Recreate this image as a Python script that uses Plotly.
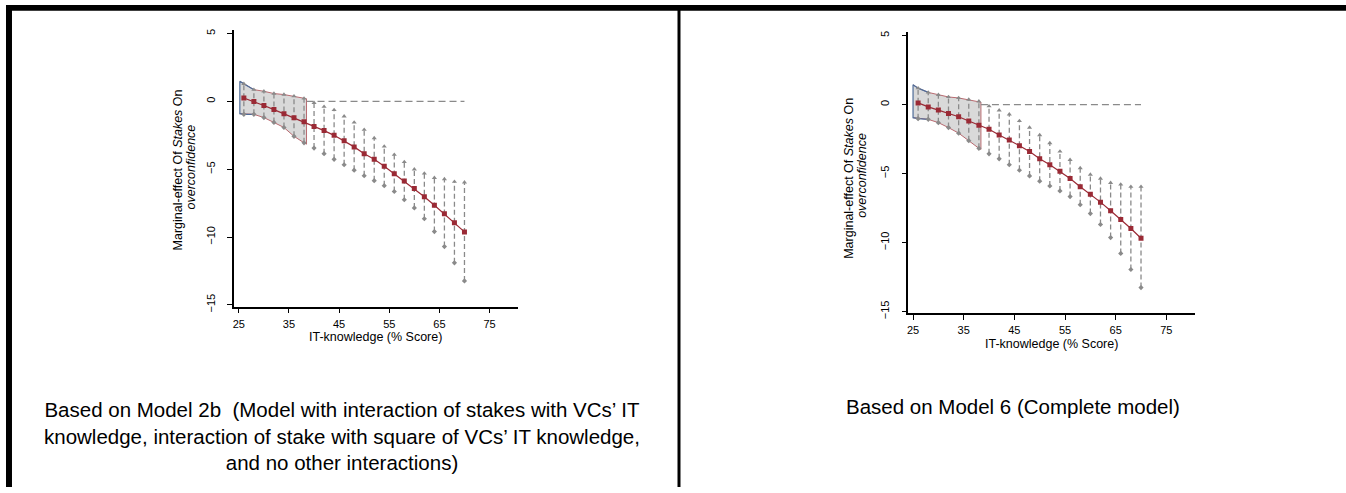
import plotly.graph_objects as go

# ---------------- data ----------------
x_points = [26, 28, 30, 32, 34, 36, 38, 40, 42, 44, 46, 48,
            50, 52, 54, 56, 58, 60, 62, 64, 66, 68, 70]

left_est = [0.25, 0.0, -0.3, -0.6, -0.9, -1.2, -1.5, -1.85, -2.15, -2.5, -2.9, -3.35,
            -3.85, -4.27, -4.78, -5.33, -5.87, -6.42, -7.03, -7.66, -8.29, -8.95, -9.62]
left_hi = [1.3, 0.87, 0.75, 0.58, 0.51, 0.39, 0.22, -0.1, -0.39, -0.63, -1.1, -1.55,
           -2.08, -2.7, -3.32, -3.93, -4.46, -5.0, -5.31, -5.63, -5.72, -5.92, -5.96]
left_lo = [-0.95, -0.95, -1.19, -1.55, -1.92, -2.57, -3.05, -3.44, -3.85, -4.27, -4.67, -5.07,
           -5.48, -5.84, -6.21, -6.64, -7.25, -7.85, -8.65, -9.6, -10.7, -11.9, -13.24]

right_est = [0.12, -0.17, -0.4, -0.64, -0.88, -1.19, -1.5, -1.79, -2.2, -2.57, -2.98, -3.4,
             -3.93, -4.36, -4.83, -5.36, -5.95, -6.5, -7.07, -7.69, -8.33, -8.98, -9.69]
right_hi = [1.19, 0.88, 0.71, 0.55, 0.48, 0.36, 0.24, -0.12, -0.42, -0.71, -1.19, -1.67,
            -2.21, -2.79, -3.4, -4.0, -4.6, -5.07, -5.36, -5.67, -5.79, -5.95, -5.95]
right_lo = [-1.02, -1.07, -1.31, -1.67, -2.07, -2.62, -3.17, -3.57, -3.93, -4.36, -4.76, -5.17,
            -5.55, -5.9, -6.26, -6.67, -7.26, -7.9, -8.69, -9.64, -10.79, -11.95, -13.26]

# shaded (insignificance) region
left_shade_x = [25.2, 26, 28, 30, 32, 34, 36, 38, 38.5]
left_shade_hi = [1.48, 1.3, 0.87, 0.75, 0.58, 0.51, 0.39, 0.22, 0.2]
left_shade_lo = [-0.9, -0.95, -0.95, -1.19, -1.55, -1.92, -2.57, -3.05, -3.15]

right_shade_x = [25.0, 26, 28, 30, 32, 34, 36, 38, 38.4]
right_shade_hi = [1.43, 1.19, 0.88, 0.71, 0.55, 0.48, 0.36, 0.24, 0.17]
right_shade_lo = [-0.95, -1.02, -1.07, -1.31, -1.67, -2.07, -2.62, -3.17, -3.25]

left_zero_x = [38.5, 70]
right_zero_x = [38.4, 70]
zero_y = [0, 0]

x_ticks = [25, 35, 45, 55, 65, 75]
y_ticks = [-15, -10, -5, 0, 5]

y_title_1 = "Marginal-effect Of <i>Stakes</i> On"
y_title_2 = "<i>overconfidence</i>"
x_title = "IT-knowledge (% Score)"
left_caption = ("Based on Model 2b  (Model with interaction of stakes with VCs\u2019 IT<br>"
                "knowledge, interaction of stake with square of VCs\u2019 IT knowledge,<br>"
                "and no other interactions)")
right_caption = "Based on Model 6 (Complete model)"

# ---------------- styling ----------------
W, H = 1346, 493
RED = "#9a2a35"
RED_LIGHT = "#b86a70"
GRAY = "#8a8a8a"
BLUE = "#4f6d99"
FILL = "#d9d9d9"


def px(xp):
    return xp / W


def py(yp):
    return 1 - yp / H


fig = go.Figure()


def add_panel(xa, ya, est, hi, lo, sx, shi, slo, zx):
    # shaded band
    fig.add_trace(go.Scatter(
        x=sx + sx[::-1], y=shi + slo[::-1], fill="toself", fillcolor=FILL,
        line=dict(color=RED_LIGHT, width=1), mode="lines",
        xaxis=xa, yaxis=ya, hoverinfo="skip", showlegend=False))
    # blue left edge of band
    fig.add_trace(go.Scatter(
        x=[sx[2], sx[1], sx[0], sx[0], sx[1], sx[2]],
        y=[shi[2], shi[1], shi[0], slo[0], slo[1], slo[2]],
        mode="lines", line=dict(color=BLUE, width=1.2),
        xaxis=xa, yaxis=ya, hoverinfo="skip", showlegend=False))
    # zero reference line
    fig.add_trace(go.Scatter(
        x=zx, y=zero_y, mode="lines",
        line=dict(color=GRAY, width=1.3, dash="7px,4px"),
        xaxis=xa, yaxis=ya, hoverinfo="skip", showlegend=False))
    # dashed confidence intervals
    cx, cy = [], []
    for xv, h, l in zip(x_points, hi, lo):
        cx += [xv, xv, None]
        cy += [l, h, None]
    fig.add_trace(go.Scatter(
        x=cx, y=cy, mode="lines",
        line=dict(color=GRAY, width=1.3, dash="5px,3px"),
        xaxis=xa, yaxis=ya, hoverinfo="skip", showlegend=False))
    fig.add_trace(go.Scatter(
        x=x_points, y=hi, mode="markers",
        marker=dict(symbol="triangle-up", size=4.5, color=GRAY),
        xaxis=xa, yaxis=ya, hoverinfo="skip", showlegend=False))
    fig.add_trace(go.Scatter(
        x=x_points, y=lo, mode="markers",
        marker=dict(symbol="diamond", size=4, color=GRAY),
        xaxis=xa, yaxis=ya, hoverinfo="skip", showlegend=False))
    # point estimates
    fig.add_trace(go.Scatter(
        x=x_points, y=est, mode="lines+markers",
        line=dict(color=RED, width=1.2),
        marker=dict(symbol="square", size=5, color=RED),
        xaxis=xa, yaxis=ya, hoverinfo="skip", showlegend=False))


add_panel("x", "y", left_est, left_hi, left_lo,
          left_shade_x, left_shade_hi, left_shade_lo, left_zero_x)
add_panel("x2", "y2", right_est, right_hi, right_lo,
          right_shade_x, right_shade_hi, right_shade_lo, right_zero_x)

axis_common = dict(showgrid=False, zeroline=False, showline=True,
                   linecolor="black", linewidth=1.5, ticks="outside",
                   ticklen=5, tickwidth=1.2, tickcolor="black",
                   tickfont=dict(family="Liberation Sans, Arial", size=11, color="black"))

fig.update_layout(
    width=W, height=H,
    margin=dict(l=0, r=0, t=0, b=0),
    paper_bgcolor="white", plot_bgcolor="white",
    xaxis=dict(domain=[px(233), px(517)], range=[24.0, 80.6], tickvals=x_ticks,
               anchor="y", ticklabelstandoff=1, **axis_common),
    yaxis=dict(domain=[py(310), py(29)], range=[-15.13, 5.3], tickvals=y_ticks,
               tickangle=-90, ticklabelstandoff=8, anchor="x", **axis_common),
    xaxis2=dict(domain=[px(908), px(1194.6)], range=[24.07, 80.6], tickvals=x_ticks,
                anchor="y2", ticklabelstandoff=1, **axis_common),
    yaxis2=dict(domain=[py(317), py(31)], range=[-15.14, 5.29], tickvals=y_ticks,
                tickangle=-90, ticklabelstandoff=8, anchor="x2", **axis_common),
)

ann_font = dict(family="Liberation Sans, Arial", color="black")
annotations = [
    # left chart titles
    dict(x=px(177), y=py(171), text=y_title_1, textangle=-90,
         font=dict(size=12.5, **ann_font)),
    dict(x=px(190), y=py(168), text=y_title_2, textangle=-90,
         font=dict(size=12.5, **ann_font)),
    dict(x=px(375), y=py(341), text=x_title, font=dict(size=12.5, **ann_font)),
    # right chart titles
    dict(x=px(849), y=py(180), text=y_title_1, textangle=-90,
         font=dict(size=12.5, **ann_font)),
    dict(x=px(862), y=py(177), text=y_title_2, textangle=-90,
         font=dict(size=12.5, **ann_font)),
    dict(x=px(1051), y=py(348), text=x_title, font=dict(size=12.5, **ann_font)),
    # captions
    dict(x=px(341), y=py(441), text=left_caption, align="center",
         font=dict(size=20.5, **ann_font)),
    dict(x=px(1013), y=py(411), text=right_caption, align="center",
         font=dict(size=20.5, **ann_font)),
]
for a in annotations:
    a.update(xref="paper", yref="paper", showarrow=False,
             xanchor="center", yanchor="middle")
fig.update_layout(annotations=annotations)

# frame lines of the original document table
shapes = [
    dict(x0=px(5), x1=1.0, y0=py(10), y1=py(4)),
    dict(x0=px(5), x1=px(11), y0=0, y1=py(4)),
    dict(x0=px(677), x1=px(680), y0=0, y1=py(4)),
]
for s in shapes:
    s.update(type="rect", xref="paper", yref="paper",
             fillcolor="black", line=dict(width=0), layer="above")
fig.update_layout(shapes=shapes)

fig.write_html("out.html")
